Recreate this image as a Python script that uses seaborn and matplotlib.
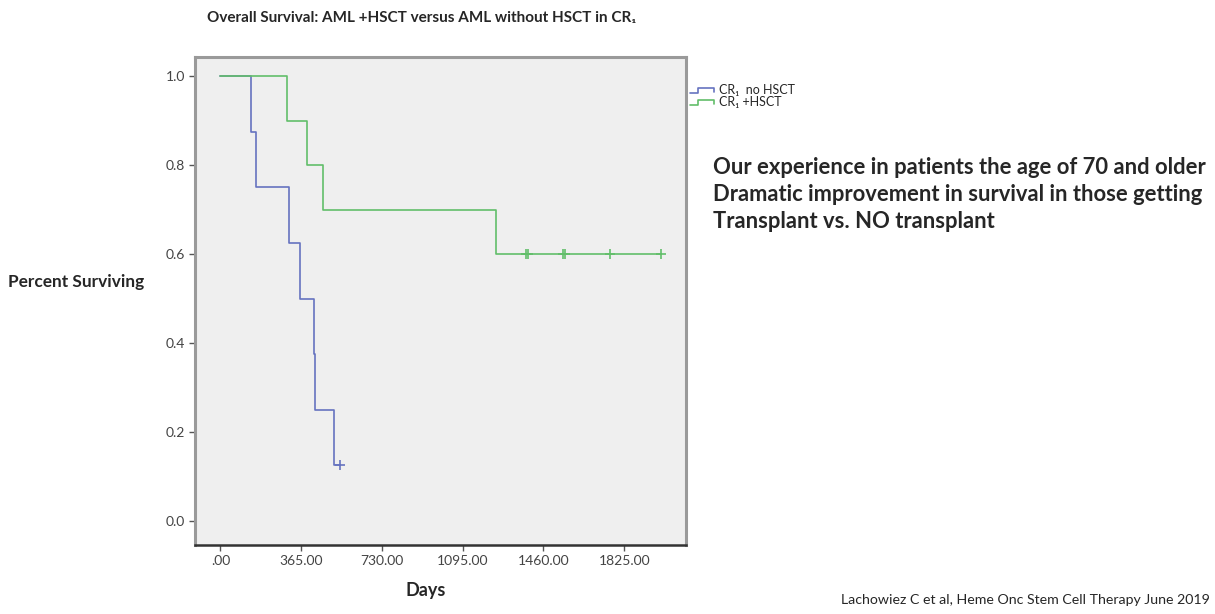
import matplotlib
matplotlib.use('Agg')
import matplotlib.pyplot as plt
import pandas as pd
import seaborn as sns
from matplotlib.legend_handler import HandlerBase
from matplotlib.lines import Line2D

# Kaplan-Meier steps (days, survival fraction)
no_hsct_days = [0, 139, 162, 312, 360, 425, 427, 511, 542]
no_hsct_surv = [1.0, 0.875, 0.75, 0.625, 0.5, 0.375, 0.25, 0.125, 0.125]
no_hsct_cens_days = [542]
no_hsct_cens_surv = [0.125]

hsct_days = [0, 299, 391, 462, 1245, 1992]
hsct_surv = [1.0, 0.9, 0.8, 0.7, 0.6, 0.6]
hsct_cens_days = [1382, 1392, 1549, 1557, 1760, 1992]
hsct_cens_surv = [0.6, 0.6, 0.6, 0.6, 0.6, 0.6]

x_ticks = [0, 365, 730, 1095, 1460, 1825]
x_tick_labels = ['.00', '365.00', '730.00', '1095.00', '1460.00', '1825.00']
y_ticks = [0.0, 0.2, 0.4, 0.6, 0.8, 1.0]

BLUE = '#6673c0'
GREEN = '#62be6a'


class StepHandler(HandlerBase):
    # little step-shaped legend icon, like SPSS draws
    def create_artists(self, legend, orig_handle, xdescent, ydescent,
                       width, height, fontsize, trans):
        w, h = width, height
        xs = [0, 0.35 * w, 0.35 * w, w, w]
        ys = [0.1 * h, 0.1 * h, 0.75 * h, 0.75 * h, 0.2 * h]
        line = Line2D(xs, ys, color=orig_handle.get_color(), lw=1.2)
        line.set_transform(trans)
        return [line]


sns.set_style('white')
plt.rcParams['font.family'] = ['Lato', 'DejaVu Sans']

fig = plt.figure(figsize=(12.15, 6.14), dpi=100)
ax = fig.add_axes([0.1605, 0.1124, 0.4041, 0.7948])
ax.set_facecolor('#efefef')

df_a = pd.DataFrame({'days': no_hsct_days, 'surv': no_hsct_surv})
df_b = pd.DataFrame({'days': hsct_days, 'surv': hsct_surv})

sns.lineplot(data=df_a, x='days', y='surv', drawstyle='steps-post',
             estimator=None, sort=False, color=BLUE, lw=1.2, ax=ax)
sns.lineplot(data=df_b, x='days', y='surv', drawstyle='steps-post',
             estimator=None, sort=False, color=GREEN, lw=1.2, ax=ax)

# censored observations
sns.scatterplot(x=no_hsct_cens_days, y=no_hsct_cens_surv, marker='+',
                s=60, color=BLUE, linewidth=1.2, ax=ax)
sns.scatterplot(x=hsct_cens_days, y=hsct_cens_surv, marker='+',
                s=60, color=GREEN, linewidth=1.2, ax=ax)

ax.set_xlim(-115, 2104)
ax.set_ylim(-0.054, 1.043)
ax.set_xticks(x_ticks)
ax.set_xticklabels(x_tick_labels)
ax.set_yticks(y_ticks)
ax.set_yticklabels([f'{v:.1f}' for v in y_ticks])
ax.tick_params(axis='both', direction='out', length=4, width=1,
               color='#555555', labelcolor='#444444', labelsize=10,
               left=True, bottom=True, pad=3)
ax.set_xlabel('')
ax.set_ylabel('')

for side in ['left', 'right', 'top']:
    ax.spines[side].set_color('#9a9a9a')
    ax.spines[side].set_linewidth(2.2)
ax.spines['bottom'].set_color('#333333')
ax.spines['bottom'].set_linewidth(1.8)

handles = [Line2D([], [], color=BLUE), Line2D([], [], color=GREEN)]
leg = fig.legend(handles, ['CR\u2081  no HSCT', 'CR\u2081 +HSCT'],
                 handler_map={Line2D: StepHandler()},
                 loc='upper left', bbox_to_anchor=(0.568, 0.863),
                 frameon=False, fontsize=9, handlelength=1.9,
                 handletextpad=0.45, labelspacing=0.0, borderpad=0.0,
                 borderaxespad=0.0)

fig.text(0.347, 0.971, 'Overall Survival: AML +HSCT versus AML without HSCT in CR\u2081',
         ha='center', va='center', fontsize=11, fontweight='bold')
fig.text(0.0066, 0.541, 'Percent Surviving', ha='left', va='center',
         fontsize=12.4, fontweight='bold')
fig.text(0.35, 0.039, 'Days', ha='center', va='center',
         fontsize=13, fontweight='bold')

note = ('Our experience in patients the age of 70 and older\n'
        'Dramatic improvement in survival in those getting\n'
        'Transplant vs. NO transplant')
fig.text(0.587, 0.744, note, ha='left', va='top', fontsize=15.8,
         fontweight='bold', linespacing=1.35)

fig.text(0.996, 0.023, 'Lachowiez C et al, Heme Onc Stem Cell Therapy June 2019',
         ha='right', va='center', fontsize=10.2)

fig.savefig('out.png', dpi=100)
